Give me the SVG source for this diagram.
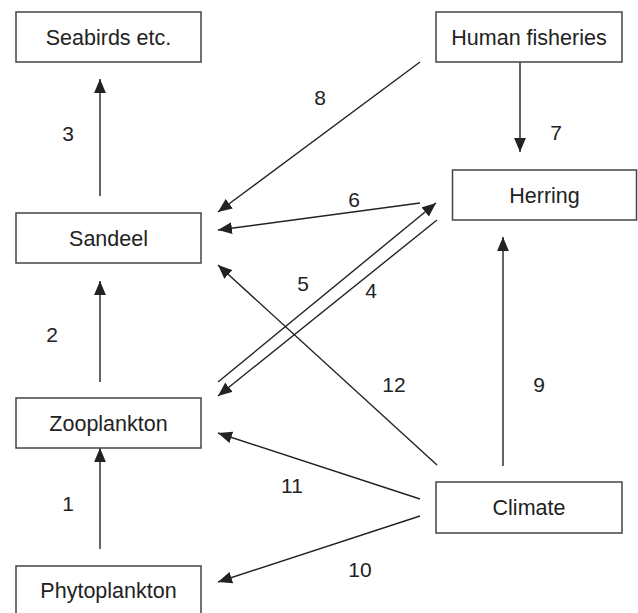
<svg xmlns="http://www.w3.org/2000/svg" width="638" height="613" viewBox="0 0 638 613">
<style>
.box{fill:#fff;stroke:#444;stroke-width:1.5}
.lbl{font-family:"Liberation Sans",Arial,sans-serif;font-size:21.5px;fill:#222;text-anchor:middle}
.num{font-family:"Liberation Sans",Arial,sans-serif;font-size:21px;fill:#222;text-anchor:middle}
.c{stroke:#222;stroke-width:1.4;fill:none;marker-end:url(#ah)}
</style>
<defs>
<marker id="ah" markerUnits="userSpaceOnUse" markerWidth="14" markerHeight="12" viewBox="0 0 13 11" refX="13" refY="5.5" orient="auto">
<path d="M0,0 L13,5.5 L0,11 Z" fill="#222"/>
</marker>
</defs>
<rect width="638" height="613" fill="#fff"/>
<g id="connectors">
<line class="c" x1="100" y1="549" x2="100" y2="448"/>
<line class="c" x1="100" y1="382" x2="100" y2="281"/>
<line class="c" x1="100" y1="196" x2="100" y2="79"/>
<line class="c" x1="437" y1="220" x2="218" y2="396"/>
<line class="c" x1="218" y1="382" x2="436" y2="203"/>
<line class="c" x1="420" y1="203" x2="218" y2="230"/>
<line class="c" x1="520" y1="62" x2="520" y2="152"/>
<line class="c" x1="420" y1="62" x2="218" y2="212"/>
<line class="c" x1="503" y1="466" x2="503" y2="237"/>
<line class="c" x1="420" y1="516" x2="218" y2="582"/>
<line class="c" x1="420" y1="499" x2="218" y2="433"/>
<line class="c" x1="437" y1="465" x2="218" y2="265"/>
</g>
<g id="labels">
<text class="num" x="68" y="141">3</text>
<text class="num" x="52" y="342">2</text>
<text class="num" x="68" y="511">1</text>
<text class="num" x="320" y="105">8</text>
<text class="num" x="556" y="140">7</text>
<text class="num" x="354" y="207">6</text>
<text class="num" x="303" y="291">5</text>
<text class="num" x="371" y="298">4</text>
<text class="num" x="394" y="392">12</text>
<text class="num" x="539" y="392">9</text>
<text class="num" x="292" y="493">11</text>
<text class="num" x="360" y="577">10</text>
</g>
<g id="seabirds"><rect class="box" x="16" y="12" width="185" height="50"/><text class="lbl" x="108.5" y="45">Seabirds etc.</text></g>
<g id="human-fisheries"><rect class="box" x="436" y="12" width="186" height="50"/><text class="lbl" x="529" y="45">Human fisheries</text></g>
<g id="herring"><rect class="box" x="452.5" y="170" width="184" height="50"/><text class="lbl" x="544.5" y="203">Herring</text></g>
<g id="sandeel"><rect class="box" x="16" y="213" width="185" height="50"/><text class="lbl" x="108.5" y="246">Sandeel</text></g>
<g id="zooplankton"><rect class="box" x="16" y="398" width="185" height="50"/><text class="lbl" x="108.5" y="431">Zooplankton</text></g>
<g id="climate"><rect class="box" x="436" y="482" width="186" height="51"/><text class="lbl" x="529" y="515">Climate</text></g>
<g id="phytoplankton"><rect class="box" x="16" y="566" width="185" height="50"/><text class="lbl" x="108.5" y="598">Phytoplankton</text></g>
</svg>
